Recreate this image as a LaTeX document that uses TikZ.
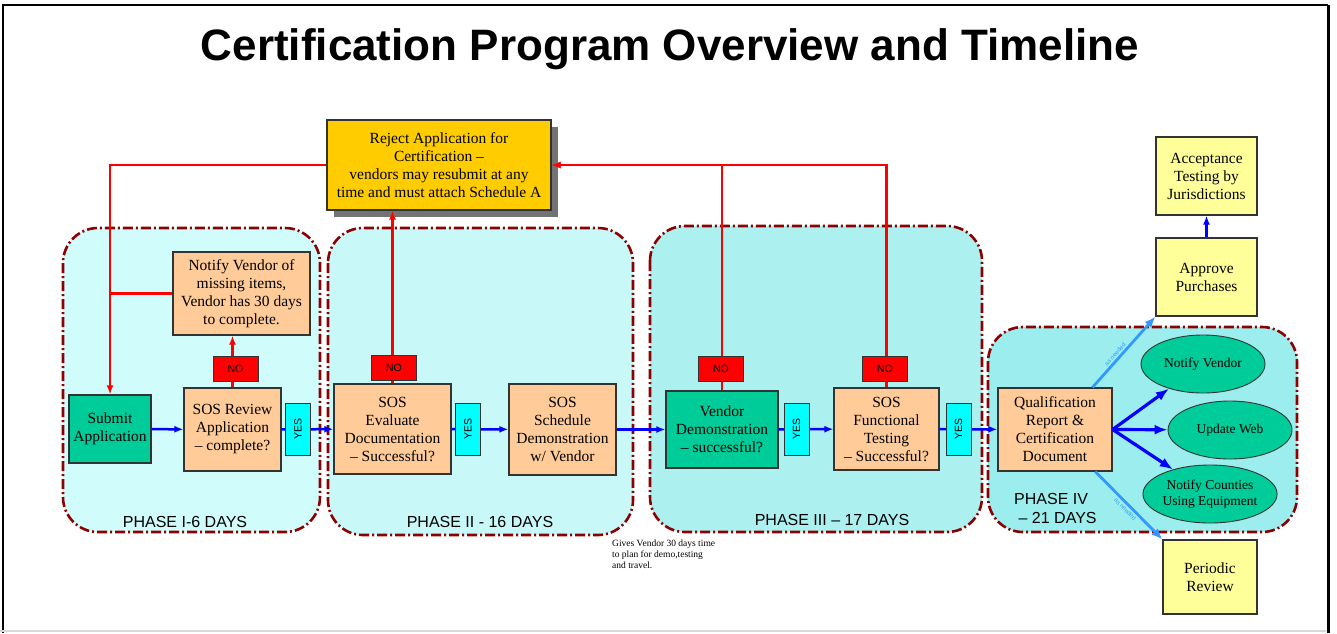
\documentclass[tikz,border=0pt]{standalone}
\usepackage{fontspec}
\setmainfont{Liberation Serif}
\setsansfont{Liberation Sans}
\usetikzlibrary{arrows.meta,shapes.geometric,shadows,calc}
\definecolor{peach}{HTML}{FFCC99}
\definecolor{mint}{HTML}{00CC99}
\definecolor{lemon}{HTML}{FFFF99}
\definecolor{gold}{HTML}{FFCC00}
\definecolor{yescyan}{HTML}{00FFFF}
\definecolor{phaseA}{HTML}{D0FCFC}
\definecolor{phaseB}{HTML}{C8F8F8}
\definecolor{phaseC}{HTML}{ACF0F0}
\definecolor{phaseD}{HTML}{9CEEEE}
\definecolor{maroon}{HTML}{8B0000}
\definecolor{skyarrow}{HTML}{3399FF}
\newcommand\bxf{\fontsize{15.5}{18}\selectfont}
\newcommand\elf{\fontsize{13.5}{16}\selectfont}
\newcommand\nof{\sffamily\fontsize{10.5}{10.5}\selectfont}
\newcommand\phf{\sffamily\fontsize{16}{19}\selectfont}
\newcommand\ttlf{\sffamily\bfseries\fontsize{44}{44}\selectfont}
\newcommand\notef{\fontsize{9.5}{11}\selectfont}
\newcommand\tinyf{\sffamily\fontsize{6}{6}\selectfont}
\begin{document}
\begin{tikzpicture}[x=1pt,y=-1pt,
  base/.style={draw=black!80,line width=1.2pt,align=center,inner sep=1pt,font=\bxf},
  peachbox/.style={base,fill=peach},
  greenbox/.style={base,fill=mint},
  yellowbox/.style={base,fill=lemon},
  nobox/.style={draw=black!80,line width=0.9pt,fill=red,minimum width=45,minimum height=25,inner sep=0pt,font=\nof},
  yesbox/.style={draw=black!80,line width=0.9pt,fill=yescyan,minimum width=25,minimum height=52,inner sep=0pt},
  ell/.style={ellipse,draw=black!80,line width=0.9pt,fill=mint,align=center,inner sep=0pt,font=\elf,minimum width=124,minimum height=58},
  phase/.style={draw=maroon,line width=2.6pt,dash pattern=on 10pt off 3pt on 2pt off 3pt,rounded corners=35},
  phlabel/.style={font=\phf,align=left,inner sep=0pt},
  bluearrow/.style={draw=blue,line width=2.5pt,-{Latex[length=9pt,width=7pt]}},
  bigblue/.style={draw=blue,line width=3.2pt,-{Latex[length=13pt,width=10pt]}},
  redline/.style={draw=red,line width=2.5pt},
  redarrow/.style={redline,-{Latex[length=9pt,width=7pt]}},
  skyline/.style={draw=skyarrow,line width=2.8pt,-{Latex[length=11pt,width=9pt]}},
  skylabel/.style={sloped,font=\tinyf,text=skyarrow,inner sep=0.5pt}
]
\useasboundingbox (0,0) rectangle (1337,633);
\fill[white] (0,0) rectangle (1337,633);
% frame
\draw[black,line width=1.5pt] (3,633) -- (3,5) -- (1328,5);
\draw[black,line width=3pt] (1328,5) -- (1328,633);
\draw[black!15,line width=1.5pt] (0,631) -- (1326,631);
% title
\node[font=\ttlf,anchor=base] (title) at (670,60) {Certification Program Overview and Timeline};
% phases
\draw[phase,fill=phaseA] (63,228) rectangle (320,532);
\draw[phase,fill=phaseB] (328,228) rectangle (633,535);
\draw[phase,fill=phaseC] (650,226) rectangle (982,532);
\draw[phase,fill=phaseD] (988,327) rectangle (1297,532);
\node[phlabel] (p1) at (185,522) {PHASE I-6 DAYS};
\node[phlabel] (p2) at (480,522) {PHASE II - 16 DAYS};
\node[phlabel] (p3) at (832,520) {PHASE III -- 17 DAYS};
\node[phlabel,anchor=north west] (p4) at (1014,493) {PHASE IV\\ \ -- 21 DAYS};
% nodes
\node[greenbox,minimum width=82,minimum height=68] (sub) at (110,429) {Submit\\Application};
\node[peachbox,minimum width=97,minimum height=83] (rev) at (232.5,429.5) {SOS Review\\Application\\-- complete?};
\node[peachbox,minimum width=137,minimum height=83] (notv) at (241.5,293.5) {Notify Vendor of\\missing items,\\Vendor has 30 days\\to complete.};
\node[base,fill=gold,minimum width=224,minimum height=90,drop shadow={shadow xshift=7pt,shadow yshift=-7pt,fill=gray!90!black,opacity=1}] (rej) at (439,165) {Reject Application for\\Certification --\\vendors may resubmit at any\\time and must attach Schedule A};
\node[peachbox,minimum width=117,minimum height=90] (eval) at (392.5,429) {SOS\\Evaluate\\Documentation\\-- Successful?};
\node[peachbox,minimum width=107,minimum height=91] (sched) at (562.5,429.5) {SOS\\Schedule\\Demonstration\\w/ Vendor};
\node[greenbox,minimum width=112,minimum height=77] (vd) at (722,429.5) {Vendor\\Demonstration\\-- successful?};
\node[peachbox,minimum width=105,minimum height=82] (ft) at (886.5,429) {SOS\\Functional\\Testing\\-- Successful?};
\node[peachbox,minimum width=114,minimum height=83] (qr) at (1055,429.5) {Qualification\\Report \&\\Certification\\Document};
\node[ell] (nv) at (1203,364) {Notify Vendor};
\node[ell] (uw) at (1230,430) {Update Web};
\node[ell] (nc) at (1210,494) {Notify Counties\\Using Equipment};
\node[yellowbox,minimum width=101,minimum height=78] (acc) at (1206.5,176) {Acceptance\\Testing by\\Jurisdictions};
\node[yellowbox,minimum width=101,minimum height=78] (app) at (1206.5,277) {Approve\\Purchases};
\node[yellowbox,minimum width=94,minimum height=74] (per) at (1210,577) {Periodic\\Review};
\node[font=\notef,align=left,anchor=north west,inner sep=0pt] (note) at (612,540) {Gives Vendor 30 days time\\to plan for demo,testing\\and travel.};
% blue connectors
\draw[bluearrow] (sub) -- (rev);
\draw[bluearrow] (rev) -- (eval);
\draw[bluearrow] (eval) -- (sched);
\draw[bluearrow] (sched) -- (vd);
\draw[bluearrow] (vd) -- (ft);
\draw[bluearrow] (ft) -- (qr);
\draw[bigblue] (qr.east) -- (nv);
\draw[bigblue] (qr.east) -- (uw);
\draw[bigblue] (qr.east) -- (nc);
\draw[bluearrow] (app) -- (acc);
\coordinate (qtop) at ($(qr.north)!0.65!(qr.north east)$);
\coordinate (qbot) at ($(qr.south)!0.7!(qr.south east)$);
\draw[skyline] (qtop) -- node[skylabel,above=1pt,pos=0.42]{as needed} (app.south west);
\draw[skyline] (qbot) -- node[skylabel,below=1pt,pos=0.5]{as needed} (per.north west);
% red connectors
\draw[redarrow] (rev.north) -- (rev.north |- notv.south);
\draw[redarrow] (eval.north) -- (eval.north |- rej.south);
\draw[redarrow] (rej.west) -| (sub.north);
\draw[redline] (notv.west) -- (notv.west -| sub.north);
\draw[redarrow] (ft.north) |- (rej.east);
\draw[redarrow] (vd.north) |- (rej.east);
% yes / no labels
\node[nobox] (no1) at (235.5,368.5) {NO};
\node[nobox] (no2) at (394,368) {NO};
\node[nobox] (no3) at (721,368.5) {NO};
\node[nobox] (no4) at (885,368.5) {NO};
\node[yesbox] (yes1) at (298,429) {};
\node[yesbox] (yes2) at (468,429) {};
\node[yesbox] (yes3) at (796.5,429) {};
\node[yesbox] (yes4) at (958.5,429) {};
\foreach \y in {yes1,yes2,yes3,yes4}{\node[rotate=90,font=\nof] at (\y) {YES};}
\end{tikzpicture}
\end{document}
